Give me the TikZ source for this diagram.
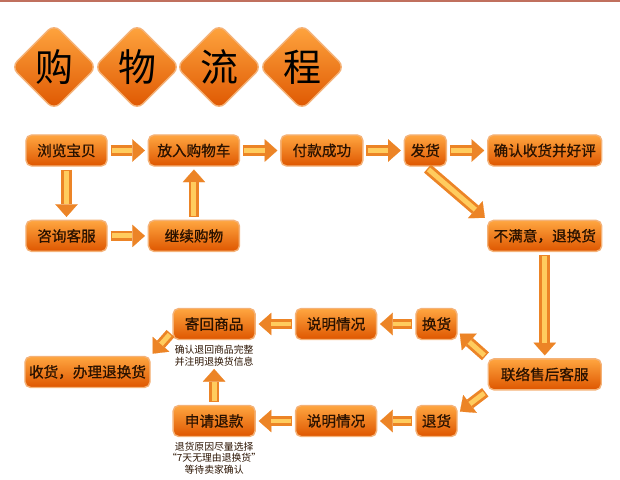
\documentclass[tikz,border=0pt]{standalone}
\usepackage{fontspec}
\usepackage{xcolor}
\usepackage{tikz}
\usetikzlibrary{shapes.geometric, arrows.meta, positioning}
\newfontfamily\cjk{Noto Sans CJK SC}
\newfontfamily\cjkheavy[FakeBold=0.8]{Noto Sans CJK SC}
\definecolor{boxtop}{HTML}{FFA640}
\definecolor{boxmid}{HTML}{FF7A05}
\definecolor{boxbot}{HTML}{DE5600}
\definecolor{boxrim}{HTML}{F4B278}
\definecolor{arrout}{HTML}{EC8426}
\definecolor{arrin}{HTML}{FFCC5E}
\definecolor{ink}{HTML}{2A1200}
\definecolor{topline}{HTML}{C0705E}

\begin{document}
\begin{tikzpicture}[x=0.025cm, y=-0.025cm,
        stage/.style={rectangle, rounded corners=4pt, draw=boxrim, line width=1pt,
                      top color=boxtop, middle color=boxmid, bottom color=boxbot,
                      minimum height=0.775cm, inner sep=1pt, text=ink,
                      font=\cjkheavy\fontsize{10.4}{12}\selectfont},
        tile/.style={diamond, aspect=1, rounded corners=6pt, draw=boxrim, line width=1pt,
                     top color=boxtop, middle color=boxmid, bottom color=boxbot,
                     minimum size=2.15cm, inner sep=0pt, text=black,
                     font=\cjk\fontsize{27}{29}\selectfont},
        note/.style={align=center, inner sep=0pt, text=ink,
                     font=\cjk\fontsize{7}{8.5}\selectfont},
        fat/.style={draw=arrout, line width=7.5pt,
                    -{Triangle[width=16pt, length=9pt, line width=0.1pt]},
                    shorten <=2pt, shorten >=2pt,
                    postaction={draw=arrin, line width=3.5pt, -, shorten <=3pt, shorten >=11pt}}
    ]
        \useasboundingbox (0,0) rectangle (620,480);
        \draw[topline, line width=1.5pt] (0,1) -- (620,1);

        % title tiles
        \node[tile] (t1) at (54,67) {购};
        \node[tile] (t2) at (137,67) {物};
        \node[tile] (t3) at (219,67) {流};
        \node[tile] (t4) at (302,67) {程};

        % buying
        \node[stage, minimum width=2.025cm] (browse) at (66.5,150.5) {浏览宝贝};
        \node[stage, minimum width=2.275cm, right=1cm of browse] (cart) {放入购物车};
        \node[stage, minimum width=2.05cm, right=1cm of cart] (pay) {付款成功};
        \node[stage, minimum width=1.05cm, right=1cm of pay] (ship) {发货};
        \node[stage, minimum width=2.85cm, right=1cm of ship] (confirm) {确认收货并好评};
        \node[stage, minimum width=2.025cm, below=1.325cm of browse] (ask) {咨询客服};
        \node[stage, minimum width=2.275cm, right=1cm of ask] (more) {继续购物};
        \node[stage, minimum width=2.85cm, below=1.325cm of confirm] (unhappy) {不满意，退换货};

        % after sale
        \node[stage, minimum width=2.825cm, below=2.65cm of unhappy] (service) {联络售后客服};
        \node[stage, minimum width=1.025cm] (swap) at (436.5,324) {换货};
        \node[stage, minimum width=2.025cm, left=0.95cm of swap] (say1) {说明情况};
        \node[stage, minimum width=2.05cm, left=0.975cm of say1] (sendback) {寄回商品};
        \node[stage, minimum width=1.025cm] (refund) at (436.5,421) {退货};
        \node[stage, minimum width=2.025cm, left=0.95cm of refund] (say2) {说明情况};
        \node[stage, minimum width=2.05cm, left=0.975cm of say2] (apply) {申请退款};
        \node[stage, minimum width=3.125cm] (receive) at (87.5,372) {收货，办理退换货};
        \node[note, below=3pt of sendback] (tip1) {确认退回商品完整\\并注明退换货信息};
        \node[note, below=3pt of apply] (tip2) {退货原因尽量选择\\“7天无理由退换货”\\等待卖家确认};

        \draw[fat] (browse) -- (cart);
        \draw[fat] (cart) -- (pay);
        \draw[fat] (pay) -- (ship);
        \draw[fat] (ship) -- (confirm);
        \draw[fat] (browse) -- (ask);
        \draw[fat] (ask) -- (more);
        \draw[fat] (more) -- (cart);
        \draw[fat] (ship.south) -- (unhappy.north west);
        \draw[fat] (unhappy) -- (service);
        \draw[fat] (service.north west) -- (swap.-20);
        \draw[fat] (service.south west) -- (refund.20);
        \draw[fat] (swap) -- (say1);
        \draw[fat] (say1) -- (sendback);
        \draw[fat] (refund) -- (say2);
        \draw[fat] (say2) -- (apply);
        \draw[fat] (apply) -- (tip1);
        \draw[fat] (sendback.190) -- (receive.north east);
    \end{tikzpicture}
\end{document}
